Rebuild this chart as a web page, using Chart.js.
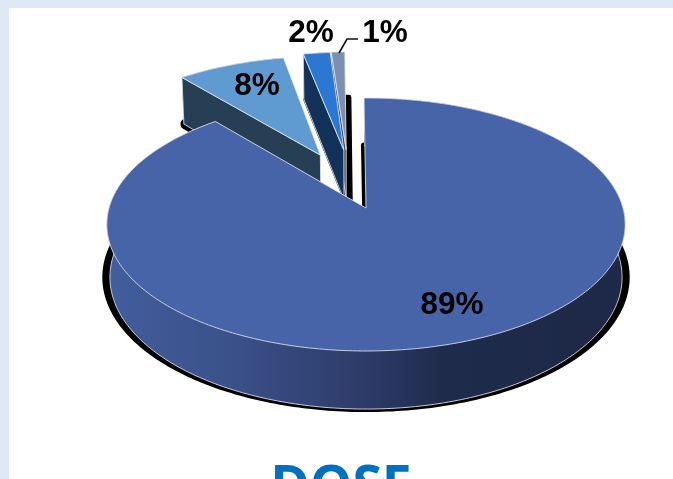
<!DOCTYPE html>
<html>
<head>
<meta charset="utf-8">
<title>DOSE</title>
<script src="https://cdn.jsdelivr.net/npm/chart.js@4"></script>
<style>
  html, body { margin: 0; padding: 0; }
  body {
    width: 673px;
    height: 479px;
    box-sizing: border-box;
    background: #ffffff;
    border-top: 8px solid #dfe9f5;
    border-left: 9px solid #dfe9f5;
    overflow: hidden;
  }
  #doseChart { position: absolute; left: 0; top: 0; }
</style>
</head>
<body>
<canvas id="doseChart" width="673" height="479"></canvas>
<script>
const categories = ["A", "B", "C", "D"];
const doseValues = [89, 8, 2, 1];

/* slice looks */
const topColors = ["#4864a8", "#5f9bd1", "#2a78d2", "#7d8fb0"];
const sideColors = [null, "#263f55", "#123259", "#3a4560"];
const sliceOffsets = [0, 514, 514, 514];
const sliceNudge = [0, 7, -6, -15];
const shadowStretch = [1.018, 1, 1, 1];
const shadowShift = [0, 2, 2, 4];
const shadowWidth = [6, 11, 5, 5];
const labelSpots = [[452, 305], [257, 86], [311, 33], [385, 33]];

/* fake 3d camera */
const TILT = 0.484;
const PERSP = 0.13;
const DEPTH = 0.206;
const DEPTH_W = 0.012;

function project(arc, i, angle, frac, z) {
  const R = arc.outerRadius;
  const mid = (arc.startAngle + arc.endAngle) / 2;
  const off = arc.options.offset / 4 / R;
  const u = frac * Math.cos(angle) + off * Math.cos(mid);
  const v = frac * Math.sin(angle) + off * Math.sin(mid);
  const w = 1 - PERSP * v + DEPTH_W * z;
  return {
    x: arc.x + sliceNudge[i] + (R * u) / w,
    y: arc.y + (R * TILT * v + z * DEPTH * R) / w,
  };
}

function arcPoints(arc, i, z) {
  const pts = [];
  const steps = Math.max(4, Math.ceil((arc.endAngle - arc.startAngle) * 60));
  for (let s = 0; s <= steps; s++) {
    const a = arc.startAngle + ((arc.endAngle - arc.startAngle) * s) / steps;
    pts.push(project(arc, i, a, 1, z));
  }
  return pts;
}

function tracePoints(ctx, pts, close) {
  ctx.beginPath();
  pts.forEach((p, n) => (n === 0 ? ctx.moveTo(p.x, p.y) : ctx.lineTo(p.x, p.y)));
  if (close) ctx.closePath();
}

function wedge(arc, i, z) {
  const apex = project(arc, i, arc.startAngle, 0, z);
  return [apex].concat(arcPoints(arc, i, z));
}

const RIM = "rgba(226, 231, 242, 0.85)";

function drawShadow(ctx, arc, i) {
  const pts = wedge(arc, i, 1).map((p) => ({
    x: arc.x + (p.x - arc.x) * shadowStretch[i] + shadowShift[i],
    y: p.y,
  }));
  tracePoints(ctx, pts, true);
  ctx.fillStyle = "#000000";
  ctx.strokeStyle = "#000000";
  ctx.lineWidth = shadowWidth[i];
  ctx.lineJoin = "round";
  ctx.fill();
  ctx.stroke();
}

function drawSides(ctx, arc, i) {
  const upper = arcPoints(arc, i, 0);
  const lower = arcPoints(arc, i, 1).reverse();
  let fill = sideColors[i];
  if (i === 0) {
    fill = ctx.createLinearGradient(107, 0, 625, 0);
    fill.addColorStop(0, "#425e9e");
    fill.addColorStop(0.25, "#3a5088");
    fill.addColorStop(0.5, "#2d3b69");
    fill.addColorStop(0.65, "#1f2b4b");
    fill.addColorStop(1, "#1d2946");
  }
  ctx.lineWidth = 1;
  ctx.lineJoin = "miter";
  ctx.strokeStyle = RIM;
  ctx.fillStyle = fill;

  tracePoints(ctx, upper.concat(lower), true);
  ctx.fill();
  tracePoints(ctx, lower, false);
  ctx.stroke();

  if (i > 0) {
    // only the left cut face of a pulled out slice turns towards the viewer
    tracePoints(ctx, [
      project(arc, i, arc.startAngle, 0, 0),
      project(arc, i, arc.startAngle, 1, 0),
      project(arc, i, arc.startAngle, 1, 1),
      project(arc, i, arc.startAngle, 0, 1),
    ], true);
    ctx.fill();
    ctx.stroke();
  }
}

function drawTop(ctx, arc, i) {
  tracePoints(ctx, wedge(arc, i, 0), true);
  ctx.fillStyle = topColors[i];
  ctx.strokeStyle = RIM;
  ctx.lineWidth = 1;
  ctx.fill();
  ctx.stroke();
}

const pie3d = {
  id: "pie3d",
  beforeDatasetsDraw(chart) {
    const ctx = chart.ctx;
    const arcs = chart.getDatasetMeta(0).data;
    const order = [3, 2, 1, 0];

    ctx.save();
    order.forEach((i) => drawShadow(ctx, arcs[i], i));
    order.forEach((i) => {
      drawSides(ctx, arcs[i], i);
      drawTop(ctx, arcs[i], i);
    });

    // percentages
    ctx.fillStyle = "#000000";
    ctx.font = "bold 31.5px 'Liberation Sans'";
    ctx.textAlign = "center";
    ctx.textBaseline = "middle";
    doseValues.forEach((v, i) => {
      ctx.fillText(v + "%", labelSpots[i][0], labelSpots[i][1]);
    });

    // leader for the smallest slice
    ctx.strokeStyle = "#111111";
    ctx.lineWidth = 1.6;
    ctx.beginPath();
    ctx.moveTo(358, 39);
    ctx.lineTo(347, 39);
    ctx.lineTo(339, 53);
    ctx.stroke();

    // heading, runs off the bottom of the page
    ctx.fillStyle = "#0070c0";
    ctx.font = "bold 53.5px 'Open Sans'";
    ctx.textBaseline = "alphabetic";
    ctx.fillText("DOSE", 341, 504);
    ctx.restore();
    return false;
  },
};

const ctx = document.getElementById("doseChart").getContext("2d");

const doseChart = new Chart(ctx, {
  type: "pie",
  data: {
    labels: categories,
    datasets: [
      {
        data: doseValues,
        backgroundColor: topColors,
        offset: sliceOffsets,
        borderWidth: 0,
      },
    ],
  },
  options: {
    responsive: false,
    animation: false,
    radius: 257,
    cutout: "0%", // a plain 0 turns NaN once the offset is bigger than the area
    rotation: -0.5,
    layout: {
      padding: { left: 59, top: 0, right: 0, bottom: 63 },
    },
    plugins: {
      legend: { display: false },
      tooltip: { enabled: false },
    },
  },
  plugins: [pie3d],
});
</script>
</body>
</html>
